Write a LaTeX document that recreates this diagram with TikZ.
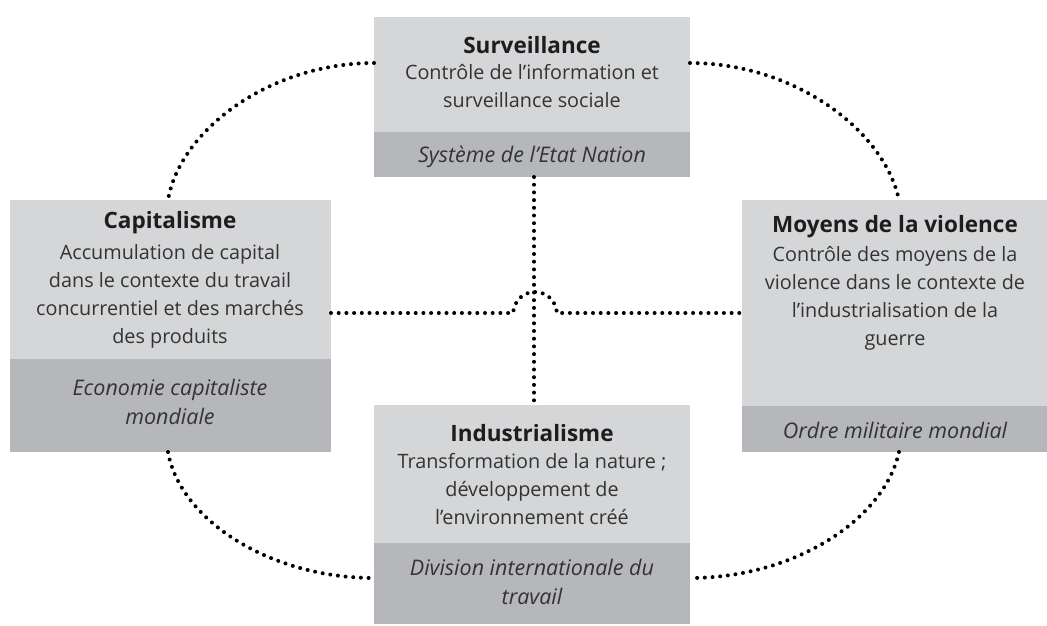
\documentclass[tikz,border=0pt]{standalone}
\usepackage{fontspec}
\setmainfont{Open Sans}
\definecolor{boxlight}{HTML}{D5D6D8}
\definecolor{boxdark}{HTML}{B6B7BA}
\definecolor{txt}{HTML}{333333}
\definecolor{ttl}{HTML}{1E1C1D}
\begin{document}
\begin{tikzpicture}[x=1pt,y=-1pt,
  panel/.style={inner sep=0pt,outer sep=0pt,anchor=north west,draw=none},
  lightpanel/.style={panel,fill=boxlight},
  darkpanel/.style={panel,fill=boxdark},
  title/.style={inner sep=0pt,text=ttl,font=\fontsize{22.5}{26}\selectfont\bfseries},
  body/.style={inner sep=0pt,text=txt,align=center,font=\fontsize{19.8}{28}\selectfont},
  sub/.style={inner sep=0pt,text=txt,align=center,font=\fontsize{21.5}{29}\selectfont\itshape},
  dots/.style={line width=4pt,line cap=round,dash pattern=on 0pt off 7.7pt}]
\useasboundingbox (0,0) rectangle (1047,626);
% panels
\node[lightpanel,minimum width=316pt,minimum height=115pt] (topL) at (374,17) {};
\node[darkpanel,minimum width=316pt,minimum height=45pt] (topD) at (374,132) {};
\node[lightpanel,minimum width=321pt,minimum height=159pt] (leftL) at (10,200) {};
\node[darkpanel,minimum width=321pt,minimum height=93pt] (leftD) at (10,359) {};
\node[lightpanel,minimum width=305pt,minimum height=206pt] (rightL) at (742,200) {};
\node[darkpanel,minimum width=305pt,minimum height=46pt] (rightD) at (742,406) {};
\node[lightpanel,minimum width=316pt,minimum height=138pt] (botL) at (374,405) {};
\node[darkpanel,minimum width=316pt,minimum height=81pt] (botD) at (374,543) {};
% texts
\node[title] (topT) at (532,45) {Surveillance};
\node[body] (topB) at (532,86.5) {Contrôle de l’information et\\surveillance sociale};
\node[sub] (topS) at (532,157) {Système de l’Etat Nation};
\node[title] (leftT) at (170,223) {Capitalisme};
\node[body] (leftB) at (170,296) {Accumulation de capital\\dans le contexte du travail\\concurrentiel et des marchés\\des produits};
\node[sub] (leftS) at (170,402) {Economie capitaliste\\mondiale};
\node[title] (rightT) at (895,227) {Moyens de la violence};
\node[body] (rightB) at (895,298) {Contrôle des moyens de la\\violence dans le contexte de\\l’industrialisation de la\\guerre};
\node[sub] (rightS) at (895,430) {Ordre militaire mondial};
\node[title] (botT) at (532,433) {Industrialisme};
\node[body] (botB) at (532,489) {Transformation de la nature ;\\développement de\\l’environnement créé};
\node[sub] (botS) at (532,581.5) {Division internationale du\\travail};
% connector anchors
\coordinate (tlA) at (374,63);
\coordinate (tlB) at (168,200);
\coordinate (trA) at (690,63);
\coordinate (trB) at (899,200);
\coordinate (blA) at (168,452);
\coordinate (blB) at (374,578);
\coordinate (brA) at (899,452);
\coordinate (brB) at (690,578);
\coordinate (vA) at (534,177);
\coordinate (vB) at (534,405);
\coordinate (hA) at (331,313);
\coordinate (hB) at (742,313);
\coordinate (hop1) at (513,313);
\coordinate (hop2) at (557,313);
% connectors
\draw[dots] (tlA) .. controls (270,63) and (180,130) .. (tlB);
\draw[dots] (trA) .. controls (794,63) and (884,130) .. (trB);
\draw[dots] (blA) .. controls (180,520) and (270,578) .. (blB);
\draw[dots] (brA) .. controls (884,520) and (794,578) .. (brB);
\draw[dots] (vA) -- (vB);
\draw[dots] (hA) -- (hop1) .. controls (516,285) and (554,285) .. (hop2) -- (hB);
\end{tikzpicture}
\end{document}
